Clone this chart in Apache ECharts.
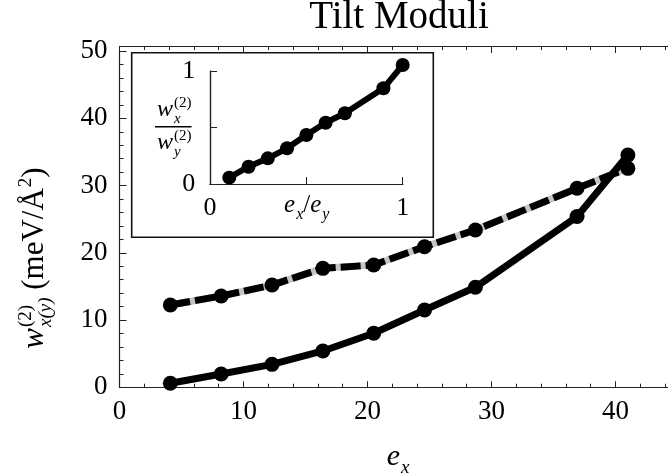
<!DOCTYPE html>
<html>
<head>
<meta charset="utf-8">
<script src="https://cdn.jsdelivr.net/npm/echarts@6/dist/echarts.min.js"></script>
<style>
  html, body { margin: 0; padding: 0; background: #fff; }
  #chart { width: 668px; height: 475px; }
</style>
</head>
<body>
<div id="chart"></div>
<script>
// main plot: e_x on x, tilt moduli on y
const ex = [4.1, 8.2, 12.3, 16.4, 20.5, 24.6, 28.7, 36.9, 41.0];
const wx = [0.58, 1.96, 3.4, 5.39, 8.02, 11.49, 14.87, 25.4, 34.55];   // solid
const wy = [12.23, 13.57, 15.2, 17.69, 18.18, 20.9, 23.39, 29.6, 32.57]; // dashed
const xTicks = [0, 10, 20, 30, 40];
const yTicks = [0, 10, 20, 30, 40, 50];

// inset: ratio w_x / w_y against e_x / e_y
const ratioX = [0.1, 0.2, 0.3, 0.4, 0.5, 0.6, 0.7, 0.9, 1.0];
const ratioY = [0.056, 0.153, 0.227, 0.316, 0.434, 0.542, 0.626, 0.847, 1.053];
const insetXTicks = [0, 1];
const insetYTicks = [0, 1];

const FONT = "'Liberation Serif', 'DejaVu Serif', serif";

function pairs(xs, ys) {
  return xs.map((x, i) => [x, ys[i]]);
}

// measure text with a canvas so the math-like labels can be laid out
const mctx = document.createElement('canvas').getContext('2d');
function tw(text, size, italic) {
  mctx.font = (italic ? 'italic ' : '') + size + 'px ' + FONT;
  return mctx.measureText(text).width;
}

function txt(text, x, baseline, size, italic, align) {
  return {
    type: 'text',
    x: x,
    y: baseline - 0.34 * size,
    z: 8,
    style: {
      text: text,
      font: (italic ? 'italic ' : '') + size + 'px ' + FONT,
      fill: '#000',
      align: align || 'left',
      verticalAlign: 'middle'
    }
  };
}

// pieces: {t, s, i} plain runs, or {sup, sub, s} stacked scripts
function mathRow(pieces, base) {
  let x = 0;
  const kids = [];
  pieces.forEach(p => {
    if (p.t !== undefined) {
      kids.push(txt(p.t, x, 0, p.s, p.i));
      x += tw(p.t, p.s, p.i);
    } else {
      let w = 0;
      if (p.sup) {
        kids.push(txt(p.sup, x + 1, -0.42 * base, p.s, false));
        w = Math.max(w, tw(p.sup, p.s, false) + 1);
      }
      if (p.sub) {
        kids.push(txt(p.sub, x + 1, 0.24 * base, p.s, true));
        w = Math.max(w, tw(p.sub, p.s, true) + 1);
      }
      x += w;
    }
  });
  return { kids: kids, width: x };
}

const chart = echarts.init(document.getElementById('chart'));

const frame = { lineStyle: { color: '#222', width: 1.2 } };
const tickStyle = { color: '#222', width: 1 };

const yTitle = mathRow([
  { t: 'w', s: 31, i: true },
  { sup: '(2)', sub: 'x(y)', s: 19 },
  { t: ' (meV/Å', s: 31 },
  { sup: '2', s: 19 },
  { t: ')', s: 31 }
], 31);
const xTitle = mathRow([{ t: 'e', s: 30, i: true }, { sub: 'x', s: 19 }], 30);
const numRow = mathRow([{ t: 'w', s: 24, i: true }, { sup: '(2)', sub: 'x', s: 15 }], 24);
const denRow = mathRow([{ t: 'w', s: 24, i: true }, { sup: '(2)', sub: 'y', s: 15 }], 24);
const insetXTitle = mathRow([
  { t: 'e', s: 25, i: true }, { sub: 'x', s: 16 },
  { t: '/', s: 25 },
  { t: 'e', s: 25, i: true }, { sub: 'y', s: 16 }
], 25);

chart.setOption({
  animation: false,
  backgroundColor: '#fff',
  grid: [
    { left: 119.5, top: 51.2, right: -71.5, bottom: 87.8, outerBoundsMode: 'none' },
    { left: 210, top: 71, width: 192.7, height: 113, outerBoundsMode: 'none' }
  ],
  xAxis: [
    {
      gridIndex: 0, type: 'value', position: 'bottom', min: 0, max: 50, interval: 10,
      offset: 2.3,
      axisLine: frame,
      axisTick: { inside: true, length: 6, lineStyle: tickStyle },
      minorTick: { show: true, splitNumber: 5, length: 3.5, lineStyle: tickStyle },
      splitLine: { show: false },
      axisLabel: {
        margin: 9, fontFamily: FONT, fontSize: 27, color: '#000',
        formatter: v => xTicks.includes(v) ? String(v) : ''
      }
    },
    {
      gridIndex: 0, type: 'value', position: 'top', min: 0, max: 50, interval: 10,
      offset: 5.2,
      axisLine: frame,
      axisTick: { inside: true, length: 7, lineStyle: tickStyle },
      minorTick: { show: true, splitNumber: 5, length: 4, lineStyle: tickStyle },
      splitLine: { show: false },
      axisLabel: { show: false }
    },
    {
      gridIndex: 1, type: 'value', position: 'bottom', min: 0, max: 1, interval: 0.5,
      offset: 1, z: 6,
      axisLine: frame,
      axisTick: { inside: true, length: 7, lineStyle: tickStyle },
      splitLine: { show: false },
      axisLabel: {
        margin: 10, fontFamily: FONT, fontSize: 26, color: '#000',
        formatter: v => insetXTicks.includes(v) ? String(v) : ''
      }
    },
    {
      gridIndex: 1, type: 'value', position: 'top', min: 0, max: 1,
      offset: 11, z: 6,
      axisLine: frame, axisTick: { show: false }, splitLine: { show: false },
      axisLabel: { show: false }
    }
  ],
  yAxis: [
    {
      gridIndex: 0, type: 'value', position: 'left', min: 0, max: 50, interval: 10,
      axisLine: { show: true, lineStyle: { color: '#222', width: 1.2 } },
      axisTick: { inside: true, length: 7, lineStyle: tickStyle },
      minorTick: { show: true, splitNumber: 5, length: 4, lineStyle: tickStyle },
      splitLine: { show: false },
      axisLabel: {
        margin: 12, fontFamily: FONT, fontSize: 27, color: '#000',
        formatter: v => yTicks.includes(v) ? String(v) : ''
      }
    },
    {
      gridIndex: 1, type: 'value', position: 'left', min: 0, max: 1, interval: 0.5,
      offset: 2.7, z: 6,
      axisLine: { show: true, lineStyle: { color: '#222', width: 1.2 } },
      axisTick: { inside: true, length: 7, lineStyle: tickStyle },
      splitLine: { show: false },
      axisLabel: {
        margin: 12, fontFamily: FONT, fontSize: 26, color: '#000',
        formatter: v => insetYTicks.includes(v) ? String(v) : ''
      }
    },
    {
      gridIndex: 1, type: 'value', position: 'right', min: 0, max: 1,
      offset: 5.6, z: 6,
      axisLine: { show: true, lineStyle: { color: '#222', width: 1.2 } },
      axisTick: { show: false }, splitLine: { show: false }, axisLabel: { show: false }
    }
  ],
  series: [
    {
      // grey underlay shows through the gaps of the dashed curve
      type: 'line', xAxisIndex: 0, yAxisIndex: 0,
      data: pairs(ex, wy), showSymbol: false, silent: true,
      lineStyle: { color: '#c4c4c4', width: 7, join: 'round' }
    },
    {
      type: 'line', xAxisIndex: 0, yAxisIndex: 0,
      data: pairs(ex, wy), symbol: 'circle', symbolSize: 15,
      itemStyle: { color: '#000' },
      lineStyle: { color: '#000', width: 7, type: [20, 5], join: 'round' }
    },
    {
      type: 'line', xAxisIndex: 0, yAxisIndex: 0,
      data: pairs(ex, wx), symbol: 'circle', symbolSize: 15,
      itemStyle: { color: '#000' },
      lineStyle: { color: '#000', width: 7, join: 'round' }
    },
    {
      type: 'line', xAxisIndex: 2, yAxisIndex: 1, z: 7,
      data: pairs(ratioX, ratioY), symbol: 'circle', symbolSize: 14,
      clip: false,
      itemStyle: { color: '#000' },
      lineStyle: { color: '#000', width: 6, join: 'round' }
    }
  ],
  graphic: [
    // inset box
    {
      type: 'rect', z: 5,
      shape: { x: 131.7, y: 52.7, width: 301.6, height: 184.6 },
      style: { fill: '#fff', stroke: '#111', lineWidth: 1.6 }
    },
    txt('Tilt Moduli', 399, 31, 39, false, 'center'),
    {
      type: 'group', x: 45, y: 258 + yTitle.width / 2, rotation: Math.PI / 2,
      children: yTitle.kids
    },
    {
      type: 'group', x: 398 - xTitle.width / 2, y: 467,
      children: xTitle.kids
    },
    {
      type: 'group', x: 157, y: 118,
      children: numRow.kids
    },
    {
      type: 'line', z: 8,
      shape: { x1: 155, y1: 126.7, x2: 157 + Math.max(numRow.width, denRow.width), y2: 126.7 },
      style: { stroke: '#000', lineWidth: 1.5 }
    },
    {
      type: 'group', x: 157, y: 151,
      children: denRow.kids
    },
    {
      type: 'group', x: 306.7 - insetXTitle.width / 2, y: 214,
      children: insetXTitle.kids
    }
  ]
});
</script>
</body>
</html>
